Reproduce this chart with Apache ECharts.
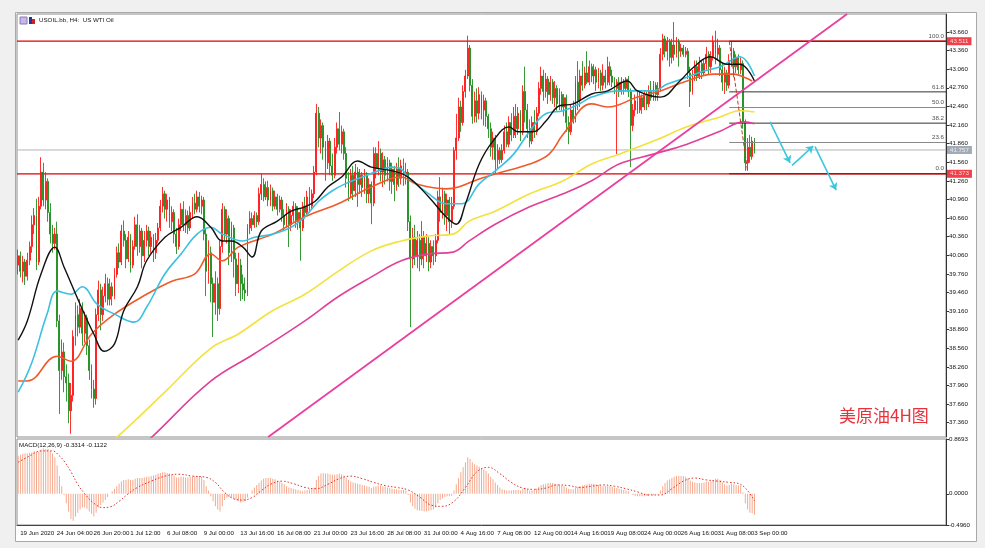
<!DOCTYPE html>
<html><head><meta charset="utf-8">
<script src="https://cdn.jsdelivr.net/npm/echarts@6/dist/echarts.min.js"></script>
<style>html,body{margin:0;padding:0;background:#f0f0f0;}#c{width:985px;height:548px;}</style>
</head><body><div id="c"></div><script>
// ===== DATA =====
const timeLabels = ['19 Jun 2020','24 Jun 04:00','26 Jun 20:00','1 Jul 12:00','6 Jul 08:00','9 Jul 00:00','13 Jul 16:00','16 Jul 08:00','21 Jul 00:00','23 Jul 16:00','28 Jul 08:00','31 Jul 00:00','4 Aug 16:00','7 Aug 08:00','12 Aug 00:00','14 Aug 16:00','19 Aug 08:00','24 Aug 00:00','26 Aug 16:00','31 Aug 08:00','3 Sep 00:00'];
const priceTicks = [37.36,37.66,37.96,38.26,38.56,38.86,39.16,39.46,39.76,40.06,40.36,40.66,40.96,41.26,41.56,41.86,42.16,42.46,42.76,43.06,43.36,43.66];
const macdTicks = [0.8693, 0, -0.4960];
const resistance = 43.511;
const support = 41.373;
const currentPrice = 41.757;
const fibRatios = [1, 0.618, 0.5, 0.382, 0.236, 0];
// candles: [open, close, low, high]
const candles = [
[39.90,40.05,39.75,40.15],[40.05,39.80,39.70,40.12],[39.80,39.95,39.62,40.05],[39.95,39.72,39.58,40.00],[39.72,39.98,39.65,40.10],
[39.98,40.20,39.90,40.28],[40.20,40.55,40.10,40.70],[40.55,40.70,40.40,40.82],[40.70,39.95,39.82,40.97],[39.95,40.85,39.90,41.00],
[40.85,41.40,40.80,41.64],[41.40,40.95,40.85,41.55],[40.95,41.25,40.80,41.40],[41.25,40.75,40.60,41.30],[40.75,40.40,40.25,40.90],
[40.40,40.25,40.10,40.55],[40.25,40.40,40.15,40.50],[40.40,39.00,38.90,40.60],[39.00,38.20,37.50,39.10],[38.20,38.50,38.05,38.70],
[38.50,38.10,37.85,38.65],[38.10,38.00,37.70,38.30],[38.00,37.55,37.35,38.15],[37.55,37.80,37.18,38.00],[37.80,38.75,37.70,38.85],
[38.75,39.10,38.60,39.30],[39.10,38.90,38.75,39.25],[38.90,39.20,38.80,39.35],[39.20,38.80,38.60,39.30],[38.80,39.05,38.65,39.15],
[39.05,38.60,38.45,39.10],[38.60,38.20,38.05,38.70],[38.20,37.90,37.75,38.30],[37.90,37.75,37.60,38.05],[37.75,39.10,37.65,39.20],
[39.10,39.50,39.00,39.65],[39.50,39.10,38.85,39.60],[39.10,39.40,39.00,39.55],[39.40,39.60,39.30,39.76],[39.60,39.35,39.25,39.70],
[39.35,39.55,39.25,39.68],[39.55,39.40,39.25,39.62],[39.40,39.75,39.35,39.85],[39.75,40.10,39.70,40.20],[40.10,39.95,39.85,40.25],
[39.95,40.45,39.90,40.55],[40.45,40.30,40.20,40.62],[40.30,40.00,39.85,40.40],[40.00,40.35,39.95,40.45],[40.35,39.90,39.78,40.40],
[39.90,40.20,39.85,40.30],[40.20,40.55,40.15,40.68],[40.55,40.20,40.05,40.72],[40.20,40.45,40.10,40.55],[40.45,40.05,39.85,40.50],
[40.05,40.30,39.95,40.45],[40.30,40.45,40.20,40.55],[40.45,40.20,40.05,40.52],[40.20,40.35,40.10,40.45],[40.35,40.10,39.95,40.40],
[40.10,40.30,40.00,40.42],[40.30,40.50,40.25,40.58],[40.50,40.85,40.45,40.95],[40.85,41.05,40.75,41.16],[41.05,40.80,40.65,41.10],
[40.80,40.95,40.60,41.05],[40.95,40.60,40.50,41.00],[40.60,40.75,40.45,40.85],[40.75,40.40,40.25,40.80],[40.40,40.20,40.08,40.50],
[40.20,40.55,40.15,40.65],[40.55,40.80,40.45,40.90],[40.80,40.55,40.45,40.93],[40.55,40.70,40.42,40.80],[40.70,40.50,40.40,40.78],
[40.50,40.75,40.45,40.85],[40.75,40.90,40.65,41.00],[40.90,40.80,40.72,41.05],[40.80,41.00,40.75,41.10],[41.00,40.85,40.75,41.08],
[40.85,40.95,40.72,41.02],[40.95,40.40,40.30,41.00],[40.40,39.80,39.40,40.50],[39.80,40.10,39.60,40.30],[40.10,39.60,39.30,40.20],
[39.60,39.30,38.74,39.70],[39.30,39.60,39.10,39.80],[39.60,39.20,39.00,39.70],[39.20,40.20,39.10,40.30],[40.20,40.80,40.10,40.90],
[40.80,40.40,40.30,40.85],[40.40,40.65,40.25,40.80],[40.65,40.10,39.90,40.70],[40.10,40.50,39.95,40.60],[40.50,40.00,39.70,40.55],
[40.00,39.60,39.40,40.10],[39.60,39.90,39.45,40.10],[39.90,39.60,39.32,40.00],[39.60,39.50,39.35,39.75],[39.50,39.45,39.32,39.70],
[39.45,40.50,39.40,40.56],[40.50,40.65,40.40,40.77],[40.65,40.55,40.45,40.75],[40.55,40.70,40.50,40.77],[40.70,40.60,40.51,40.75],
[40.60,41.05,40.55,41.15],[41.05,41.20,40.95,41.37],[41.20,41.00,40.93,41.30],[41.00,41.15,40.95,41.25],[41.15,40.95,40.85,41.26],
[40.95,41.10,40.85,41.20],[41.10,40.85,40.77,41.15],[40.85,41.00,40.80,41.10],[41.00,40.80,40.70,41.05],[40.80,40.95,40.75,41.02],
[40.95,40.70,40.60,41.00],[40.70,40.55,40.45,40.80],[40.55,40.80,40.50,40.90],[40.80,40.55,40.19,40.85],[40.55,40.70,40.45,40.80],
[40.70,40.85,40.60,40.93],[40.85,40.60,40.50,40.90],[40.60,40.75,40.47,40.85],[40.75,40.50,39.97,40.80],[40.50,40.85,40.45,40.92],
[40.85,40.75,40.65,41.00],[40.75,41.00,40.70,41.10],[41.00,40.85,40.75,41.16],[40.85,41.05,40.80,41.12],[41.05,41.40,40.98,41.50],
[41.40,42.35,41.35,42.50],[42.35,41.95,41.80,42.45],[41.95,42.15,41.70,42.25],[42.15,41.80,41.60,42.20],[41.80,41.55,41.26,41.90],
[41.55,41.90,41.45,42.00],[41.90,41.50,41.35,41.95],[41.50,41.35,41.26,41.70],[41.35,41.80,41.30,41.95],[41.80,42.10,41.70,42.20],
[42.10,41.85,41.75,42.37],[41.85,42.05,41.70,42.15],[42.05,41.70,41.60,42.10],[41.70,41.30,41.15,41.80],[41.30,41.05,40.93,41.40],
[41.05,41.35,40.98,41.45],[41.35,41.10,40.95,41.50],[41.10,41.40,41.00,41.53],[41.40,41.20,40.84,41.48],[41.20,41.35,41.05,41.45],
[41.35,41.15,41.00,41.40],[41.15,41.35,41.05,41.45],[41.35,41.05,40.90,41.40],[41.05,41.20,40.90,41.30],[41.20,40.90,40.56,41.25],
[40.90,41.70,40.85,41.80],[41.70,41.45,41.30,41.80],[41.45,41.70,41.35,41.90],[41.70,41.40,41.25,41.78],[41.40,41.60,41.16,41.72],
[41.60,41.35,41.20,41.66],[41.35,41.55,41.25,41.64],[41.55,41.25,41.10,41.60],[41.25,41.45,41.05,41.55],[41.45,41.20,40.93,41.50],
[41.20,41.45,41.10,41.55],[41.45,41.30,41.16,41.64],[41.30,41.50,41.20,41.60],[41.50,41.35,41.18,41.62],[41.35,41.40,41.20,41.55],
[41.40,40.60,40.45,41.45],[40.60,40.00,38.90,40.70],[40.00,40.35,39.85,40.50],[40.35,40.05,39.90,40.55],[40.05,40.30,39.85,40.45],
[40.30,40.00,39.80,40.40],[40.00,40.35,39.90,40.61],[40.35,40.05,39.85,40.45],[40.05,40.25,39.95,40.40],[40.25,39.95,39.80,40.35],
[39.95,40.20,39.85,40.30],[40.20,40.05,39.90,40.30],[40.05,40.30,39.95,40.40],[40.30,41.00,40.25,41.10],[41.00,40.75,40.60,41.32],
[40.75,41.05,40.65,41.15],[41.05,40.70,40.55,41.10],[40.70,40.95,40.45,41.05],[40.95,40.60,40.40,41.00],[40.60,40.85,40.50,41.00],
[40.85,41.75,40.80,41.80],[41.75,41.95,41.60,42.34],[41.95,42.45,41.90,42.60],[42.45,42.20,42.05,42.55],[42.20,42.70,42.15,42.80],
[42.70,42.95,42.60,43.05],[42.95,43.40,42.90,43.60],[43.40,42.80,42.70,43.45],[42.80,42.30,42.18,42.90],[42.30,42.55,42.20,42.70],
[42.55,42.35,42.20,42.75],[42.35,42.65,42.25,42.77],[42.65,42.40,42.25,42.70],[42.40,42.55,42.15,42.65],[42.55,42.30,42.13,42.60],
[42.30,42.10,41.95,42.34],[42.10,41.80,41.65,42.20],[41.80,41.95,41.60,42.05],[41.95,41.60,41.37,42.00],[41.60,41.75,41.45,41.85],
[41.75,41.60,41.53,41.80],[41.60,41.75,41.55,41.85],[41.75,42.05,41.70,42.15],[42.05,41.85,41.80,42.20],[41.85,42.20,41.80,42.30],
[42.20,42.00,41.90,42.35],[42.00,42.30,41.95,42.45],[42.30,42.10,41.95,42.50],[42.10,42.35,42.00,42.45],[42.35,42.05,41.90,42.40],
[42.05,42.70,42.00,42.80],[42.70,42.40,42.20,43.10],[42.40,42.10,41.95,42.50],[42.10,41.90,41.80,42.25],[41.90,42.20,41.85,42.30],
[42.20,42.05,41.95,42.40],[42.05,42.35,42.00,42.45],[42.35,42.75,42.30,42.85],[42.75,42.95,42.65,43.10],[42.95,42.70,42.55,43.05],
[42.70,42.90,42.60,43.00],[42.90,42.65,42.50,42.95],[42.65,42.85,42.55,42.95],[42.85,42.60,42.50,42.90],[42.60,42.75,42.45,42.87],
[42.75,42.50,42.39,42.80],[42.50,42.65,42.40,42.75],[42.65,42.45,42.39,42.70],[42.45,42.60,42.30,42.66],[42.60,42.20,42.05,42.65],
[42.20,42.05,41.85,42.30],[42.05,42.40,42.00,42.50],[42.40,42.25,42.18,42.55],[42.25,42.85,42.20,42.95],[42.85,42.55,42.40,43.19],
[42.55,42.95,42.45,43.05],[42.95,42.80,42.71,43.19],[42.80,43.00,42.75,43.10],[43.00,42.85,42.82,43.35],[42.85,43.10,42.80,43.20],
[43.10,42.95,42.85,43.15],[42.95,43.05,42.82,43.14],[43.05,42.85,42.71,43.10],[42.85,43.00,42.75,43.08],[43.00,42.80,42.71,43.05],
[42.80,42.95,42.72,43.14],[42.95,42.85,42.75,43.05],[42.85,43.10,42.80,43.26],[43.10,42.95,42.80,43.18],[42.95,42.85,42.77,43.05],
[42.85,42.75,42.66,42.93],[42.75,42.85,41.69,42.90],[42.85,42.70,42.61,42.93],[42.70,42.85,42.65,42.93],[42.85,42.75,42.65,42.90],
[42.75,42.90,42.70,42.93],[42.90,42.70,42.61,42.95],[42.70,42.15,41.48,42.75],[42.15,42.40,42.06,42.50],[42.40,42.55,42.30,42.65],
[42.55,42.40,42.34,42.71],[42.40,42.60,42.35,42.70],[42.60,42.45,42.34,42.65],[42.45,42.65,42.40,42.71],[42.65,42.50,42.40,42.70],
[42.50,42.70,42.45,42.80],[42.70,42.60,42.55,42.87],[42.60,42.80,42.55,42.87],[42.80,42.65,42.55,42.85],[42.65,42.75,42.55,42.85],
[42.75,43.30,42.70,43.40],[43.30,43.55,43.20,43.63],[43.55,43.35,43.25,43.60],[43.35,43.50,43.20,43.58],[43.50,43.25,43.10,43.55],
[43.25,43.45,43.15,43.55],[43.45,43.30,43.20,43.82],[43.30,43.50,43.25,43.58],[43.50,43.35,43.10,43.55],[43.35,43.40,43.26,43.47],
[43.40,43.30,43.26,43.45],[43.30,43.35,43.25,43.42],[43.35,43.00,42.90,43.40],[43.00,42.70,42.45,43.10],[42.70,42.95,42.65,43.05],
[42.95,43.10,42.87,43.20],[43.10,42.95,42.87,43.20],[42.95,43.15,42.90,43.26],[43.15,43.00,42.90,43.20],[43.00,43.15,42.95,43.22],
[43.15,43.30,43.05,43.42],[43.30,43.10,42.98,43.35],[43.10,43.25,43.00,43.35],[43.25,43.50,43.20,43.60],[43.50,43.30,43.14,43.68],
[43.30,43.40,43.20,43.55],[43.40,43.05,42.95,43.45],[43.05,42.85,42.71,43.15],[42.85,43.00,42.66,43.10],[43.00,42.80,42.71,43.05],
[42.80,43.20,42.75,43.30],[43.20,43.35,43.10,43.51],[43.35,43.10,42.93,43.40],[43.10,43.25,43.00,43.30],[43.25,43.05,42.98,43.30],
[43.05,43.15,42.98,43.25],[43.15,42.20,42.10,43.20],[42.20,41.55,41.42,42.25],[41.55,41.80,41.42,41.95],[41.80,41.65,41.55,42.00],
[41.65,41.90,41.60,41.97],[41.90,41.757,41.70,41.95]
];
// moving averages: [bar index, price]
const maBlack = [[0,38.69],[4,39.00],[10,39.76],[16,40.19],[20,39.87],[27,39.27],[33,38.79],[37.5,38.51],[42,38.63],[46,39.16],[52,39.55],[56,39.97],[64,40.35],[71,40.51],[78,40.68],[84,40.51],[89,40.29],[93,40.29],[98,40.19],[102,40.03],[106,40.45],[113,40.61],[119,40.77],[125,40.84],[129.5,40.93],[135,41.16],[141,41.32],[148,41.58],[154,41.48],[163,41.42],[170,41.32],[179,41.00],[186.5,40.68],[191,40.56],[195,40.89],[201,41.53],[207,41.90],[214,42.13],[218,42.05],[224.5,42.05],[230,42.22],[236,42.47],[242,42.50],[250,42.66],[257,42.71],[265.5,42.87],[270,42.71],[280,42.61],[288.5,42.87],[294.7,43.10],[301.7,43.26],[309,43.14],[314.7,43.14],[321,42.87]];
const maCyan = [[0,37.85],[5.7,38.30],[12.6,39.11],[17,39.48],[23,39.43],[28,39.55],[34.4,39.27],[42,39.11],[50.6,38.98],[56,39.22],[64,39.76],[71,40.08],[78,40.40],[84,40.51],[89,40.40],[98,40.29],[103,40.35],[111,40.40],[119,40.51],[125,40.68],[131,40.93],[137,41.10],[142.5,41.21],[150,41.32],[157,41.42],[163,41.48],[167,41.45],[170,41.32],[179,41.05],[186.5,40.89],[193.5,40.89],[201,41.21],[208,41.42],[216,41.69],[223,42.06],[230,42.34],[237.6,42.39],[244.6,42.50],[250,42.61],[262,42.71],[277,42.71],[283,42.82],[291.6,42.93],[299,43.03],[306,43.10],[314.7,43.26],[321,42.95]];
const maOrange = [[0,38.03],[4,38.03],[17,38.43],[23,38.35],[32,38.79],[42,39.11],[56,39.43],[67,39.64],[77,39.76],[84,40.08],[89,39.97],[96,40.19],[111,40.40],[125,40.68],[139.5,40.89],[154,41.16],[167,41.32],[173.5,41.21],[186.5,41.13],[192,41.16],[201,41.29],[208,41.37],[223,41.53],[231.5,41.69],[237.6,42.01],[250,42.50],[257,42.45],[270,42.61],[280,42.71],[291.6,42.87],[303.4,42.98],[312,42.98],[316.5,42.93],[320,42.87]];
const maYellow = [[38,37.00],[43.2,37.13],[63.6,37.84],[83.7,38.55],[96,38.79],[110.7,39.16],[125,39.43],[139.5,39.80],[154,40.13],[167,40.29],[179,40.37],[189.6,40.40],[196.6,40.61],[208,40.77],[223,41.05],[237.6,41.26],[250,41.53],[262,41.69],[277,41.90],[291.6,42.13],[306,42.29],[314.7,42.39],[321,42.37]];
const maMagenta = [[53,36.95],[58.4,37.13],[83.7,38.02],[103,38.47],[125,39.00],[139.5,39.39],[154,39.71],[167,39.97],[179,40.08],[189.6,40.11],[196.6,40.29],[208,40.56],[223,40.84],[237.6,41.05],[250,41.26],[262,41.53],[277,41.69],[291.6,41.85],[306,42.06],[316.5,42.21],[321,42.18]];
const trendLine = [[109,37.128],[361.4,43.95]];
const fibAnchor = [[310,43.511],[318,41.42]];
const fibStart = 310;
const forecastPath = [[[327.8,42.21],[336.5,41.55]],[[337.4,41.51],[346.6,41.82]],[[347.4,41.81],[356.6,41.11]]];
// MACD histogram (per bar) and signal line [bar index, value]
const macdHist = [
0.60,0.62,0.63,0.64,0.64,0.65,0.66,0.68,0.66,0.67,
0.70,0.72,0.71,0.71,0.68,0.64,0.58,0.45,0.28,0.12,
-0.02,-0.15,-0.28,-0.40,-0.43,-0.36,-0.30,-0.25,-0.22,-0.22,
-0.24,-0.28,-0.32,-0.36,-0.30,-0.22,-0.18,-0.14,-0.10,-0.05,
0.00,0.04,0.08,0.12,0.16,0.20,0.22,0.22,0.23,0.22,
0.22,0.24,0.25,0.25,0.25,0.26,0.27,0.27,0.28,0.29,
0.30,0.32,0.33,0.34,0.34,0.33,0.32,0.30,0.28,0.26,
0.26,0.27,0.27,0.26,0.26,0.27,0.27,0.28,0.28,0.28,
0.27,0.22,0.12,0.05,-0.04,-0.12,-0.20,-0.25,-0.28,-0.20,
-0.10,-0.06,-0.05,-0.06,-0.08,-0.10,-0.12,-0.14,-0.13,-0.12,
-0.06,0.00,0.05,0.10,0.14,0.17,0.21,0.24,0.25,0.25,
0.25,0.24,0.23,0.21,0.19,0.17,0.15,0.12,0.10,0.09,
0.08,0.07,0.06,0.05,0.04,0.05,0.06,0.07,0.08,0.10,
0.22,0.28,0.32,0.33,0.32,0.32,0.31,0.30,0.30,0.31,
0.32,0.31,0.29,0.26,0.22,0.20,0.18,0.17,0.16,0.15,
0.14,0.13,0.12,0.11,0.09,0.11,0.12,0.13,0.13,0.12,
0.11,0.10,0.09,0.08,0.07,0.07,0.06,0.06,0.06,0.05,
-0.02,-0.14,-0.20,-0.24,-0.26,-0.27,-0.27,-0.28,-0.28,-0.27,
-0.26,-0.25,-0.22,-0.15,-0.10,-0.07,-0.05,-0.04,-0.04,-0.03,
0.05,0.15,0.25,0.34,0.42,0.50,0.58,0.55,0.50,0.47,
0.45,0.43,0.41,0.39,0.36,0.32,0.27,0.23,0.18,0.14,
0.10,0.07,0.06,0.05,0.05,0.05,0.06,0.06,0.06,0.05,
0.08,0.09,0.07,0.05,0.05,0.06,0.08,0.11,0.14,0.15,
0.16,0.17,0.17,0.17,0.16,0.15,0.14,0.13,0.12,0.10,
0.08,0.07,0.07,0.09,0.11,0.12,0.13,0.14,0.15,0.16,
0.16,0.16,0.15,0.14,0.13,0.12,0.12,0.12,0.12,0.11,
0.10,0.09,0.08,0.07,0.06,0.05,0.04,0.00,-0.02,-0.03,
-0.04,-0.04,-0.04,-0.04,-0.03,-0.03,-0.02,-0.02,-0.01,-0.01,
0.05,0.12,0.17,0.21,0.23,0.25,0.27,0.28,0.28,0.28,
0.28,0.27,0.25,0.21,0.19,0.18,0.17,0.17,0.17,0.18,
0.19,0.19,0.20,0.22,0.24,0.24,0.22,0.18,0.15,0.13,
0.14,0.16,0.15,0.14,0.13,0.13,0.02,-0.15,-0.25,-0.30,-0.31,-0.3314
];
const macdSignal = [[0,0.50],[5,0.60],[10,0.68],[15,0.68],[18,0.60],[20,0.52],[23,0.35],[26,0.15],[29,0.00],[33,-0.15],[37,-0.22],[40,-0.21],[44,-0.12],[48,0.00],[52,0.10],[58,0.20],[64,0.28],[70,0.31],[76,0.28],[82,0.26],[86,0.18],[90,0.02],[94,-0.08],[98,-0.10],[102,-0.06],[106,0.05],[110,0.15],[115,0.20],[120,0.16],[125,0.10],[130,0.08],[135,0.15],[140,0.24],[145,0.28],[150,0.24],[155,0.18],[160,0.13],[165,0.10],[170,0.06],[175,-0.05],[180,-0.18],[185,-0.20],[190,-0.12],[195,0.10],[200,0.35],[205,0.42],[210,0.32],[215,0.18],[220,0.09],[225,0.07],[230,0.09],[235,0.14],[240,0.13],[245,0.10],[250,0.12],[255,0.14],[260,0.12],[265,0.08],[270,0.03],[275,-0.02],[280,-0.02],[285,0.08],[290,0.20],[295,0.25],[300,0.22],[305,0.20],[310,0.18],[315,0.15],[321,-0.1122]];

// ===== CHART =====
const M = 405;              // bar slots incl. right shift
const PMIN = 37.128, PMAX = 43.95;
const MMIN = -0.4960, MMAX = 0.8693;
const FONT = 'Liberation Sans, Arial, sans-serif';
const FS = 6.2;
const cats = [];
for (let i = 0; i < M; i++) cats.push(i % 16 === 0 && i / 16 < timeLabels.length ? timeLabels[i / 16] : '');

const hl = (v) => [[-0.5, v], [M - 0.5, v]];
const fibSeries = [], fibLabels = [];
const fibColors = ['#8b0000', '#333333', '#8a8a8a', '#333333', '#8a8a8a', '#8b0000'];
fibRatios.forEach((r, k) => {
  const v = support + r * (resistance - support);
  fibSeries.push({type:'line', xAxisIndex:1, yAxisIndex:0, data:[[fibStart, v], [M - 0.5, v]], symbol:'none', silent:true, z:4,
    lineStyle:{color:fibColors[k], width:1}});
  fibLabels.push({value:[M - 0.5, v], label:{formatter:(r * 100).toFixed(1)}});
});
const boxLabels = [
  {value:[M - 0.5, resistance], label:{backgroundColor:'#e8101a'}},
  {value:[M - 0.5, support], label:{backgroundColor:'#e8101a'}},
  {value:[M - 0.5, currentPrice], label:{backgroundColor:'#8a96a4'}}
];

const maLine = (data, color, width) => ({type:'line', xAxisIndex:1, yAxisIndex:0, data, symbol:'none', smooth:0.4, silent:true, z:5,
  lineStyle:{color, width}});

const chart = echarts.init(document.getElementById('c'));
chart.setOption({
  animation:false,
  backgroundColor:'#f0f0f0',
  textStyle:{fontFamily:FONT},
  graphic:[
    {type:'rect', z:-10, shape:{x:15.5, y:12.5, width:961, height:529}, style:{fill:'#ffffff', stroke:'#a8a8a8', lineWidth:1}},
    {type:'rect', z:10, shape:{x:20, y:17, width:7, height:7}, style:{fill:'#c8b8e8', stroke:'#8a7ab8', lineWidth:1}},
    {type:'rect', z:10, shape:{x:29, y:17, width:3, height:7}, style:{fill:'#1a3a9a'}},
    {type:'rect', z:10, shape:{x:32, y:19, width:3, height:5}, style:{fill:'#d02020'}},
    {type:'text', z:10, left:39, top:17, style:{text:'USOIL.bb, H4:  US WTI Oil', fontSize:FS, fill:'#111', fontFamily:FONT}},
    {type:'text', z:10, left:19, top:442, style:{text:'MACD(12,26,9) -0.3314 -0.1122', fontSize:FS, fill:'#111', fontFamily:FONT}},
    {type:'text', z:10, left:839, top:407, style:{text:'美原油4H图', fontSize:17, fill:'#e8313a', fontFamily:'Noto Sans CJK SC'}}
  ],
  grid:[
    {left:17, top:14, width:929, height:423, show:true, borderColor:'#8c8c8c', borderWidth:1, backgroundColor:'transparent'},
    {left:17, top:439, width:929, height:86, show:true, borderColor:'#8c8c8c', borderWidth:1, backgroundColor:'transparent'}
  ],
  xAxis:[
    {type:'category', gridIndex:0, data:cats, boundaryGap:true, show:false, axisLine:{onZero:false}},
    {type:'value', gridIndex:0, min:-0.5, max:M - 0.5, show:false, axisLine:{onZero:false}},
    {type:'category', gridIndex:1, data:cats, boundaryGap:true,
      axisLine:{onZero:false, lineStyle:{color:'#444'}},
      axisTick:{interval:(i, v) => v !== '', length:10, lineStyle:{color:'#555'}},
      axisLabel:{interval:(i, v) => v !== '', showMinLabel:true, align:'left', margin:5, padding:[0,0,0,2], fontSize:FS, color:'#111', fontFamily:FONT}},
    {type:'value', gridIndex:1, min:-0.5, max:M - 0.5, show:false, axisLine:{onZero:false}}
  ],
  yAxis:[
    {type:'value', gridIndex:0, position:'right', min:PMIN, max:PMAX, splitLine:{show:false},
      axisLine:{show:true, onZero:false, lineStyle:{color:'#333'}},
      axisTick:{show:true, length:3, customValues:priceTicks, lineStyle:{color:'#333'}},
      axisLabel:{customValues:priceTicks, formatter:v => v.toFixed(3), fontSize:FS, color:'#111', margin:3, fontFamily:FONT}},
    {type:'value', gridIndex:1, position:'right', min:MMIN, max:MMAX, splitLine:{show:false},
      axisLine:{show:true, onZero:false, lineStyle:{color:'#333'}},
      axisTick:{show:true, length:3, customValues:macdTicks, lineStyle:{color:'#333'}},
      axisLabel:{customValues:macdTicks, formatter:v => v.toFixed(4), fontSize:FS, color:'#111', margin:3, fontFamily:FONT}}
  ],
  series:[
    {type:'line', xAxisIndex:1, yAxisIndex:0, data:hl(currentPrice), symbol:'none', silent:true, z:1, lineStyle:{color:'#b4b4b4', width:1}},
    {type:'line', xAxisIndex:1, yAxisIndex:0, data:hl(resistance), symbol:'none', silent:true, z:1, lineStyle:{color:'#e00000', width:1.3}},
    {type:'line', xAxisIndex:1, yAxisIndex:0, data:hl(support), symbol:'none', silent:true, z:1, lineStyle:{color:'#e00000', width:1.3}},
    ...fibSeries,
    {type:'candlestick', xAxisIndex:0, yAxisIndex:0, data:candles, barWidth:1.4, z:3, silent:true,
      itemStyle:{color:'#ff1a1a', color0:'#1f8f1f', borderColor:'#ff1a1a', borderColor0:'#1f8f1f', borderWidth:0.9}},
    maLine(maYellow, '#f2e23c', 1.6),
    maLine(maMagenta, '#e0409a', 1.6),
    maLine(maOrange, '#f05a28', 1.6),
    maLine(maCyan, '#3cc0e0', 1.6),
    maLine(maBlack, '#111111', 1.4),
    {type:'line', xAxisIndex:1, yAxisIndex:0, data:trendLine, symbol:'none', silent:true, z:6, lineStyle:{color:'#ea3f9f', width:1.8}},
    {type:'line', xAxisIndex:1, yAxisIndex:0, data:fibAnchor, symbol:'none', silent:true, z:6, lineStyle:{color:'#c0392b', width:1, type:'dashed'}},
    {type:'scatter', xAxisIndex:1, yAxisIndex:0, data:fibLabels, symbolSize:0, silent:true, z:7,
      label:{show:true, position:'left', distance:2, offset:[0,-5], fontSize:FS, color:'#222', fontFamily:FONT}},
    {type:'scatter', xAxisIndex:1, yAxisIndex:0, data:boxLabels, symbolSize:0, silent:true, z:8, clip:false,
      label:{show:true, position:'right', distance:1, formatter:p => p.value[1].toFixed(3), fontSize:FS, color:'#fff', padding:[1,3,1,3], fontFamily:FONT}},
    {type:'lines', coordinateSystem:'cartesian2d', xAxisIndex:1, yAxisIndex:0, z:7, silent:true,
      data:forecastPath.map(c => ({coords:c})), symbol:['none','arrow'], symbolSize:7,
      lineStyle:{color:'#3cc8dc', width:1.6, opacity:1}},
    {type:'bar', xAxisIndex:2, yAxisIndex:1, data:macdHist, barWidth:1, silent:true, itemStyle:{color:'#f6a98e'}},
    {type:'line', xAxisIndex:3, yAxisIndex:1, data:macdSignal, symbol:'none', smooth:0.4, silent:true, z:5,
      lineStyle:{color:'#e0302a', width:1, type:[1.5,2]}}
  ]
});
</script></body></html>
